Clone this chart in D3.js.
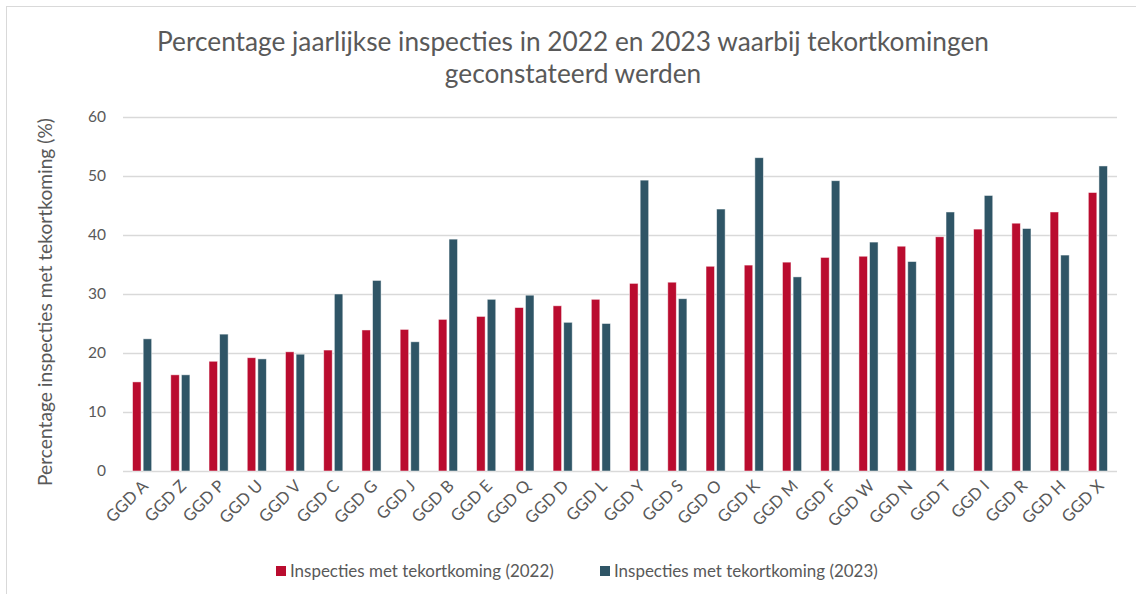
<!DOCTYPE html>
<html>
<head>
<meta charset="utf-8">
<script src="https://cdn.jsdelivr.net/npm/d3@7"></script>
<style>
  body { margin: 0; background: #fff; }
  svg { display: block; font-family: Lato, "Open Sans", sans-serif; }
</style>
</head>
<body>
<div class="main"></div>
<script>
const categories = ["GGD A", "GGD Z", "GGD P", "GGD U", "GGD V", "GGD C", "GGD G", "GGD J", "GGD B", "GGD E",
    "GGD Q", "GGD D", "GGD L", "GGD Y", "GGD S", "GGD O", "GGD K", "GGD M", "GGD F", "GGD W",
    "GGD N", "GGD T", "GGD I", "GGD R", "GGD H", "GGD X"];
const values2022 = [15.1, 16.3, 18.6, 19.2, 20.2, 20.5, 23.9, 24.0, 25.7, 26.2,
    27.7, 28.0, 29.1, 31.8, 32.0, 34.7, 34.9, 35.4, 36.2, 36.4,
    38.1, 39.7, 41.0, 42.0, 43.9, 47.2];
const values2023 = [22.4, 16.3, 23.2, 19.0, 19.8, 30.0, 32.3, 21.9, 39.3, 29.1,
    29.8, 25.2, 25.0, 49.3, 29.2, 44.4, 53.1, 32.9, 49.2, 38.8,
    35.5, 43.9, 46.7, 41.1, 36.6, 51.7];
const seriesNames = ["Inspecties met tekortkoming (2022)", "Inspecties met tekortkoming (2023)"];
const yTicks = [0, 10, 20, 30, 40, 50, 60];

const W = 1136, H = 594;
const margin = {top: 117, right: 19, bottom: 123, left: 123};
const colors = ["#BA0C2F", "#2F5566"];
const textColor = "#595959";

const svg = d3.select(".main").append("svg")
    .attr("width", W)
    .attr("height", H);

// outer border of the chart area
svg.append("rect")
    .attr("x", 6.5).attr("y", 6.5)
    .attr("width", W + 20).attr("height", H + 20)
    .attr("fill", "none")
    .attr("stroke", "#d9d9d9");

// squeeze or stretch a text node to a target width by font size
const fitText = function (sel, width) {
    const node = sel.node();
    const fs = parseFloat(sel.attr("font-size"));
    const w = node.getComputedTextLength();
    sel.attr("font-size", (fs * width / w).toFixed(2));
};

const x0 = d3.scaleBand()
    .domain(categories)
    .range([margin.left, W - margin.right])
    .paddingInner(0.5)
    .paddingOuter(0.25);

const x1 = d3.scaleBand()
    .domain([0, 1])
    .range([0, x0.bandwidth()])
    .paddingInner(0.2);

const y = d3.scaleLinear()
    .domain([0, 60])
    .range([H - margin.bottom, margin.top]);

// grid
svg.append("g")
    .selectAll("line")
    .data(yTicks)
    .enter().append("line")
    .attr("x1", margin.left)
    .attr("x2", W - margin.right)
    .attr("y1", d => y(d) + 0.5)
    .attr("y2", d => y(d) + 0.5)
    .attr("stroke", "#d9d9d9")
    .attr("stroke-width", 1.3);

// y tick labels
svg.append("g")
    .selectAll("text")
    .data(yTicks)
    .enter().append("text")
    .attr("x", 106)
    .attr("y", d => y(d))
    .attr("dy", "0.35em")
    .attr("text-anchor", "end")
    .attr("font-size", 15.5)
    .attr("fill", textColor)
    .text(d => d);

// bars
const groups = svg.append("g")
    .selectAll("g")
    .data(categories.map((c, i) => ({cat: c, vals: [values2022[i], values2023[i]]})))
    .enter().append("g")
    .attr("transform", d => "translate(" + x0(d.cat) + ",0)");

groups.selectAll("rect")
    .data(d => d.vals.map((v, k) => ({k: k, v: v})))
    .enter().append("rect")
    .attr("x", d => x1(d.k))
    .attr("y", d => y(d.v))
    .attr("width", x1.bandwidth())
    .attr("height", d => y(0) - y(d.v))
    .attr("fill", d => colors[d.k])
    .attr("stroke", "#ffffff")
    .attr("stroke-opacity", 0.6)
    .attr("stroke-width", 0.8);

// x labels
svg.append("g")
    .selectAll("text")
    .data(categories)
    .enter().append("text")
    .attr("transform", d => "translate(" + (x0(d) + x0.bandwidth() / 2 + 7) + "," + 487 + ") rotate(-45)")
    .attr("text-anchor", "end")
    .attr("font-size", 16.5)
    .attr("fill", textColor)
    .text(d => d);

// y axis title
const yTitle = svg.append("text")
    .attr("transform", "translate(52," + 302 + ") rotate(-90)")
    .attr("text-anchor", "middle")
    .attr("font-size", 16)
    .attr("fill", textColor)
    .text("Percentage inspecties met tekortkoming (%)");
fitText(yTitle, 368);

// chart title
const t1 = svg.append("text")
    .attr("x", 573).attr("y", 51)
    .attr("text-anchor", "middle")
    .attr("font-size", 24)
    .attr("fill", textColor)
    .text("Percentage jaarlijkse inspecties in 2022 en 2023 waarbij tekortkomingen");
fitText(t1, 832);
const t2 = svg.append("text")
    .attr("x", 573).attr("y", 83)
    .attr("text-anchor", "middle")
    .attr("font-size", t1.attr("font-size"))
    .attr("fill", textColor)
    .text("geconstateerd werden");

// legend
const legendX = [276, 600];
const legend = svg.append("g")
    .selectAll("g")
    .data(seriesNames)
    .enter().append("g")
    .attr("transform", (d, i) => "translate(" + legendX[i] + ",566)");

legend.append("rect")
    .attr("width", 10)
    .attr("height", 10)
    .attr("fill", (d, i) => colors[i]);

legend.append("text")
    .attr("x", 14)
    .attr("y", 5)
    .attr("dy", "0.35em")
    .attr("font-size", 15)
    .attr("fill", textColor)
    .text(d => d)
    .each(function () { fitText(d3.select(this), 264); });
</script>
</body>
</html>
